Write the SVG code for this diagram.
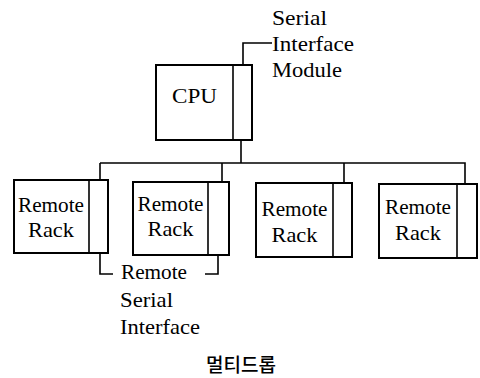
<svg xmlns="http://www.w3.org/2000/svg" width="480" height="378" viewBox="0 0 480 378">
  <style>
    .box { fill: #ffffff; stroke: #000000; stroke-width: 2; }
    .div { stroke: #000000; stroke-width: 1.6; fill: none; }
    .wire { stroke: #000000; stroke-width: 1.6; fill: none; }
    .lbl { font-family: "Liberation Serif", "DejaVu Serif", serif; font-size: 21px; fill: #000000; }
    .mid { text-anchor: middle; }
    .cap { font-family: "Noto Sans CJK KR", "Noto Sans", sans-serif; font-size: 19px; font-weight: 500; fill: #000000; text-anchor: middle; }
  </style>
  <rect width="480" height="378" fill="#ffffff"/>

  <g id="connectors">
    <path class="wire" d="M241 140 V163"/>
    <path class="wire" d="M100 163 H465 V184"/>
    <path class="wire" d="M100 163 V180"/>
    <path class="wire" d="M222 163 V182"/>
    <path class="wire" d="M344 163 V183"/>
    <path class="wire" d="M243 65 V43 H272"/>
    <path class="wire" d="M100 253 V274 H113"/>
    <path class="wire" d="M218 255 V274 H205"/>
  </g>

  <g id="cpu">
    <rect class="box" x="156" y="65" width="96" height="75"/>
    <line class="div" x1="233" y1="65" x2="233" y2="140"/>
    <text class="lbl mid" x="194.5" y="103" textLength="45" lengthAdjust="spacingAndGlyphs">CPU</text>
  </g>

  <g id="serial-interface-module">
    <text class="lbl" x="272" y="25" textLength="55" lengthAdjust="spacingAndGlyphs">Serial</text>
    <text class="lbl" x="272" y="51" textLength="82" lengthAdjust="spacingAndGlyphs">Interface</text>
    <text class="lbl" x="272" y="77" textLength="70" lengthAdjust="spacingAndGlyphs">Module</text>
  </g>

  <g id="rack1">
    <rect class="box" x="14" y="180" width="94" height="73"/>
    <line class="div" x1="89" y1="180" x2="89" y2="253"/>
    <text class="lbl mid" x="51" y="212" textLength="66" lengthAdjust="spacingAndGlyphs">Remote</text>
    <text class="lbl mid" x="51" y="237" textLength="46" lengthAdjust="spacingAndGlyphs">Rack</text>
  </g>

  <g id="rack2">
    <rect class="box" x="133" y="182" width="96" height="73"/>
    <line class="div" x1="208" y1="182" x2="208" y2="255"/>
    <text class="lbl mid" x="170.5" y="211" textLength="66" lengthAdjust="spacingAndGlyphs">Remote</text>
    <text class="lbl mid" x="170.5" y="236" textLength="46" lengthAdjust="spacingAndGlyphs">Rack</text>
  </g>

  <g id="rack3">
    <rect class="box" x="256" y="183" width="96" height="74"/>
    <line class="div" x1="333" y1="183" x2="333" y2="257"/>
    <text class="lbl mid" x="294.5" y="216" textLength="66" lengthAdjust="spacingAndGlyphs">Remote</text>
    <text class="lbl mid" x="294.5" y="242" textLength="46" lengthAdjust="spacingAndGlyphs">Rack</text>
  </g>

  <g id="rack4">
    <rect class="box" x="379" y="184" width="98" height="74"/>
    <line class="div" x1="457" y1="184" x2="457" y2="258"/>
    <text class="lbl mid" x="418" y="214" textLength="66" lengthAdjust="spacingAndGlyphs">Remote</text>
    <text class="lbl mid" x="418" y="240" textLength="46" lengthAdjust="spacingAndGlyphs">Rack</text>
  </g>

  <g id="remote-serial-interface">
    <text class="lbl" x="121" y="279" textLength="66" lengthAdjust="spacingAndGlyphs">Remote</text>
    <text class="lbl" x="120" y="307" textLength="53" lengthAdjust="spacingAndGlyphs">Serial</text>
    <text class="lbl" x="120" y="334" textLength="80" lengthAdjust="spacingAndGlyphs">Interface</text>
  </g>

  <g id="caption">
    <text class="cap" x="241" y="372">멀티드롭</text>
  </g>
</svg>
